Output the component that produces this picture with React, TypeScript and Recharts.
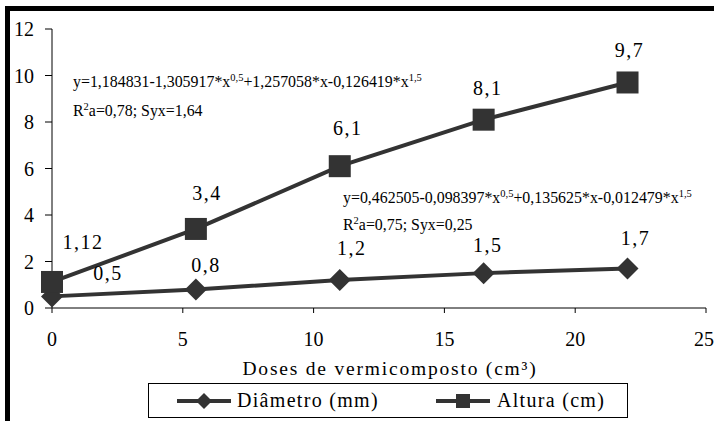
import { LineChart, Line, XAxis, YAxis, LabelList } from "recharts";

const doses = [0, 5.5, 11, 16.5, 22];
const diametro = [0.5, 0.8, 1.2, 1.5, 1.7];
const altura = [1.12, 3.4, 6.1, 8.1, 9.7];
const yTicks = [0, 2, 4, 6, 8, 10, 12];
const xTicks = [0, 5, 10, 15, 20, 25];

const data = doses.map((d, i) => ({
  dose: d,
  diametro: diametro[i],
  altura: altura[i],
}));

const INK = "#333333";
const FONT = '"Times New Roman", "Liberation Serif", serif';

// label nudges (px) relative to each point
const altNudge = [
  [31, -40],
  [11, -36],
  [8, -38],
  [4, -32],
  [2, -32],
];
const diaNudge = [
  [56, -23],
  [10, -24],
  [12, -32],
  [4, -28],
  [8, -30],
];

const fmt = (v: number) => String(v).replace(".", ",");

const makeLabel =
  (nudge: number[][]) =>
  (props: any) => {
    const { x, y, value, index } = props;
    const [dx, dy] = nudge[index] || [0, -30];
    return (
      <text
        x={x + dx}
        y={y + dy + 7}
        textAnchor="middle"
        fontSize={20}
        fontFamily={FONT}
        letterSpacing={1.5}
        fill="#000"
      >
        {fmt(value)}
      </text>
    );
  };

const Diamond = (props: any) => {
  const { cx, cy } = props;
  const s = 11;
  return (
    <polygon
      points={`${cx},${cy - s} ${cx + s},${cy} ${cx},${cy + s} ${cx - s},${cy}`}
      fill={INK}
    />
  );
};

const Square = (props: any) => {
  const { cx, cy } = props;
  const s = 11;
  return <rect x={cx - s} y={cy - s} width={s * 2} height={s * 2} fill={INK} />;
};

const eqStyle: React.CSSProperties = {
  position: "absolute",
  fontFamily: FONT,
  fontSize: 15.9,
  lineHeight: "16px",
  whiteSpace: "nowrap",
  color: "#000",
};
const supStyle: React.CSSProperties = {
  fontSize: 10.5,
  position: "relative",
  top: -6,
};

export default function App() {
  return (
    <div
      style={{
        position: "absolute",
        left: 0,
        top: 0,
        width: 714,
        height: 421,
        overflow: "hidden",
        background: "#fff",
        fontFamily: FONT,
      }}
    >
      <LineChart
        width={714}
        height={421}
        data={data}
        margin={{ top: 29, right: 8, left: 8, bottom: 38 }}
      >
        <XAxis
          dataKey="dose"
          type="number"
          domain={[0, 25]}
          ticks={xTicks}
          axisLine={{ stroke: "#000" }}
          tickLine={{ stroke: "#000" }}
          tickSize={5}
          tickMargin={19}
          height={75}
          tick={{ fontSize: 20, fontFamily: FONT, fill: "#000" }}
          label={{
            value: "Doses de vermicomposto (cm³)",
            position: "insideBottom",
            offset: 8,
            dx: 11,
            fontSize: 19.5,
            fontFamily: FONT,
            fill: "#000",
            letterSpacing: 1.8,
          }}
        />
        <YAxis
          type="number"
          domain={[0, 12]}
          ticks={yTicks}
          width={44}
          axisLine={{ stroke: "#000" }}
          tickLine={{ stroke: "#000" }}
          tickSize={7}
          tickMargin={11}
          tick={{ fontSize: 20, fontFamily: FONT, fill: "#000" }}
        />
        <Line
          dataKey="diametro"
          type="linear"
          stroke={INK}
          strokeWidth={4}
          dot={<Diamond />}
          activeDot={false}
          isAnimationActive={false}
        >
          <LabelList dataKey="diametro" content={makeLabel(diaNudge)} />
        </Line>
        <Line
          dataKey="altura"
          type="linear"
          stroke={INK}
          strokeWidth={4}
          dot={<Square />}
          activeDot={false}
          isAnimationActive={false}
        >
          <LabelList dataKey="altura" content={makeLabel(altNudge)} />
        </Line>
      </LineChart>

      <div style={{ ...eqStyle, left: 73, top: 74 }}>
        y=1,184831-1,305917*x<span style={supStyle}>0,5</span>+1,257058*x-0,126419*x
        <span style={supStyle}>1,5</span>
      </div>
      <div style={{ ...eqStyle, left: 73, top: 103 }}>
        R<span style={supStyle}>2</span>a=0,78; Syx=1,64
      </div>
      <div style={{ ...eqStyle, left: 343, top: 190 }}>
        y=0,462505-0,098397*x<span style={supStyle}>0,5</span>+0,135625*x-0,012479*x
        <span style={supStyle}>1,5</span>
      </div>
      <div style={{ ...eqStyle, left: 343, top: 217 }}>
        R<span style={supStyle}>2</span>a=0,75; Syx=0,25
      </div>

      <div
        style={{
          position: "absolute",
          left: 148,
          top: 383,
          width: 480,
          height: 35,
          border: "1px solid #000",
          boxSizing: "border-box",
          fontFamily: FONT,
          fontSize: 20,
          letterSpacing: 1.3,
          color: "#000",
        }}
      >
        <svg
          width={54}
          height={20}
          style={{ position: "absolute", left: 28, top: 7 }}
        >
          <line x1={0} y1={10} x2={54} y2={10} stroke={INK} strokeWidth={4} />
          <polygon points="27,2 35,10 27,18 19,10" fill={INK} />
        </svg>
        <span style={{ position: "absolute", left: 88, top: 5 }}>Diâmetro (mm)</span>
        <svg
          width={54}
          height={20}
          style={{ position: "absolute", left: 287, top: 7 }}
        >
          <line x1={0} y1={10} x2={54} y2={10} stroke={INK} strokeWidth={4} />
          <rect x={20} y={3} width={14} height={14} fill={INK} />
        </svg>
        <span style={{ position: "absolute", left: 348, top: 5 }}>Altura (cm)</span>
      </div>

      <div
        style={{
          position: "absolute",
          left: 5,
          top: 6,
          width: 720,
          height: 430,
          borderLeft: "5px solid #000",
          borderTop: "5px solid #000",
          pointerEvents: "none",
        }}
      />
    </div>
  );
}
